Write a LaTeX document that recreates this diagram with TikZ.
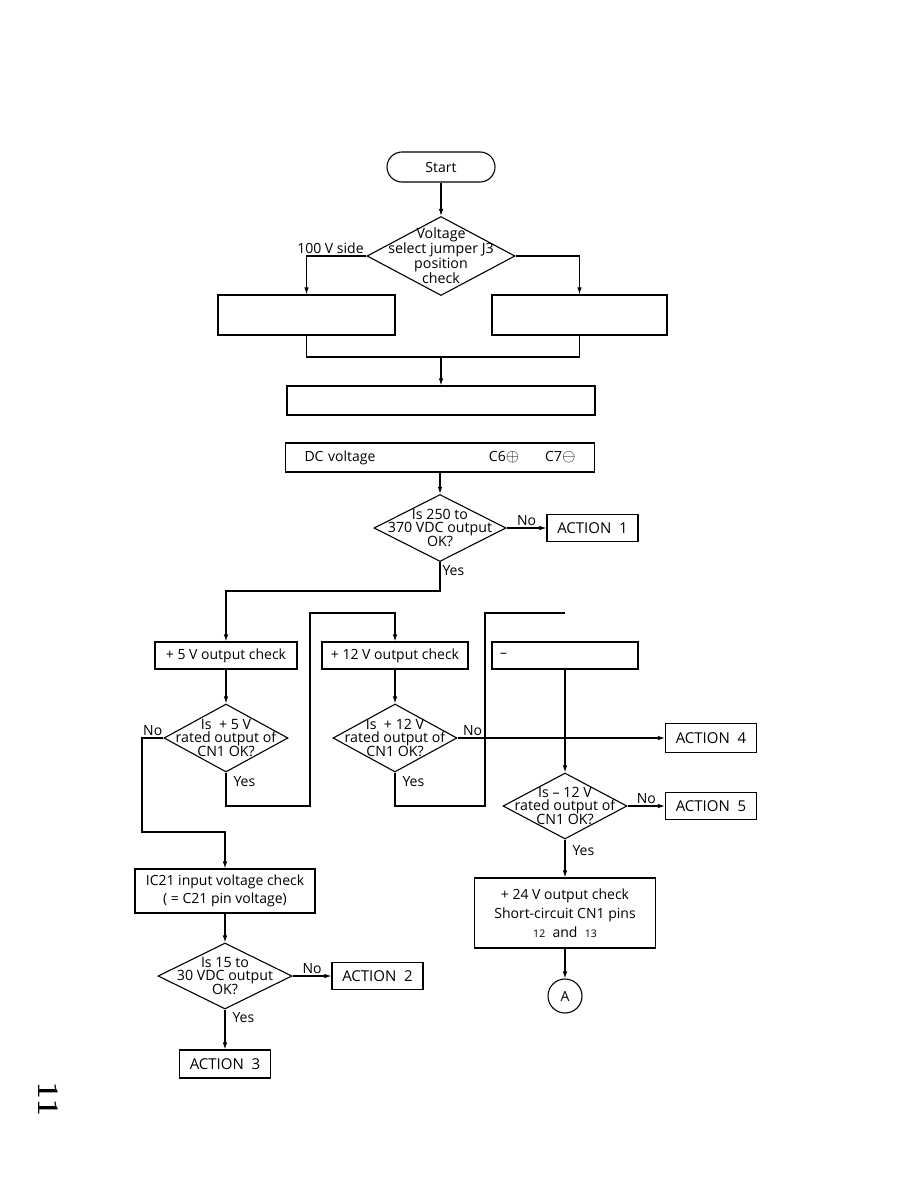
\documentclass[tikz,border=0pt]{standalone}
\usepackage{fontspec}
\setsansfont{Open Sans}
\usepackage{tikz}
\usetikzlibrary{shapes.geometric, arrows.meta}

\begin{document}
\begin{tikzpicture}[x=1pt, y=-1pt, line width=1.1pt, >={Latex[length=7pt,width=4.5pt]},
  box/.style={draw, font=\sffamily\fontsize{14}{18}\selectfont, align=center, inner sep=0pt},
  act/.style={draw, font=\sffamily\fontsize{15}{16}\selectfont, minimum width=91pt, minimum height=27pt, inner sep=0pt},
  dia/.style={draw, diamond, inner sep=0pt},
  dtext/.style={font=\sffamily\fontsize{14.2}{12.8}\selectfont, align=center, inner sep=0pt},
  lbl/.style={font=\sffamily\fontsize{14}{15}\selectfont, inner sep=2pt}]
  \useasboundingbox (0,0) rectangle (918,1188);
  \node[box, rounded corners=15pt, minimum width=108pt, minimum height=30pt] (s) at (441,167) {Start};
  \node[dia, minimum width=148pt, minimum height=79pt, label={[dtext]center:{Voltage\\select jumper J3\\position\\check}}] (d1) at (441,256) {};
  \node[box, minimum width=177pt, minimum height=40pt] (b1) at (306.5,315) {};
  \node[box, minimum width=175pt, minimum height=40pt] (b2) at (579.5,315) {};
  \node[box, minimum width=308pt, minimum height=29pt] (b3) at (441,400.5) {};
  \node[box, minimum width=309pt, minimum height=29pt, text width=271pt, align=left] (dc) at (440,457.5) {DC voltage\hfill C6{\fontsize{18}{18}\selectfont$\oplus$}\hspace{26pt}C7{\fontsize{18}{18}\selectfont$\ominus$}};
  \coordinate (j) at (441,357);
  \node[dia, minimum width=132pt, minimum height=67pt, label={[dtext]center:{Is 250 to\\370 VDC output\\OK?}}] (d2) at (440,528) {};
  \node[act] (a1) at (592.5,528) {ACTION~~1};
  \coordinate (c1) at (440,591);
  \node[box, minimum width=142pt, minimum height=27pt] (p5) at (226,655.5) {+ 5 V output check};
  \node[box, minimum width=146pt, minimum height=27pt] (p12) at (395,655.5) {+ 12 V output check};
  \node[box, minimum width=146pt, minimum height=27pt, text width=130pt, align=left] (m12) at (565,655.5) {--};
  \node[dia, minimum width=124pt, minimum height=68pt, label={[dtext]center:{Is~~+ 5 V\\rated output of\\CN1 OK?}}] (d3) at (226,738) {};
  \node[dia, minimum width=124pt, minimum height=68pt, label={[dtext]center:{Is~~+ 12 V\\rated output of\\CN1 OK?}}] (d4) at (395,738) {};
  \node[act, minimum height=29pt] (a4) at (711,738) {ACTION~~4};
  \node[dia, minimum width=124pt, minimum height=66pt, label={[dtext]center:{Is -- 12 V\\rated output of\\CN1 OK?}}] (d5) at (565,806) {};
  \node[act] (a5) at (711,806) {ACTION~~5};
  \node[box, font=\sffamily\fontsize{14}{19}\selectfont, minimum width=181pt, minimum height=70pt] (p24) at (565,913) {+ 24 V output check\\Short-circuit CN1 pins\\{\fontsize{10.5}{12}\selectfont 12}~~and~~{\fontsize{10.5}{12}\selectfont 13}};
  \node[draw, circle, minimum size=34pt, inner sep=0pt, font=\sffamily\fontsize{14}{15}\selectfont] (A) at (565,996) {A};
  \node[box, minimum width=180pt, minimum height=44pt] (ic) at (225,891) {IC21 input voltage check\\( = C21 pin voltage)};
  \node[dia, minimum width=134pt, minimum height=66pt, label={[dtext]center:{Is 15 to\\30 VDC output\\OK?}}] (d6) at (225,976) {};
  \node[act] (a2) at (377.5,976) {ACTION~~2};
  \node[act, minimum height=28pt] (a3) at (225,1064) {ACTION~~3};
  \node[rotate=-90, font=\rmfamily\bfseries\fontsize{30}{30}\selectfont] (pg) at (48,1099) {11};
  \coordinate (c2) at (142,832);
  \coordinate (c3) at (310,806);
  \coordinate (c4) at (310,613);
  \coordinate (c5) at (485,806);
  \coordinate (c6) at (485,613);
  \coordinate (c7) at (565,613);
  \draw[->] (s) -- (d1);
  \draw[->] (d1.west) -| node[lbl, above, pos=0.3]{100 V side} (b1.north);
  \draw[->] (d1.east) -| (b2.north);
  \draw (b1.south) |- (j) -| (b2.south);
  \draw[->] (j) -- (b3);
  \draw[->] (dc) -- (d2);
  \draw[->] (d2) -- node[lbl, above]{No} (a1);
  \draw[->] (d2.south) -- node[lbl, right, pos=0.3]{Yes} (c1) -| (p5.north);
  \draw[->] (p5) -- (d3);
  \draw[->] (p12) -- (d4);
  \draw[->] (m12) -- (d5);
  \draw[->] (d3.west) -| node[lbl, above, pos=0.25]{No} (c2) -| (ic.north);
  \draw[->] (d3.south) |- node[lbl, right=5pt, pos=0.14]{Yes} (c3) -- (c4) -| (p12.north);
  \draw (d4.south) |- node[lbl, right=5pt, pos=0.14]{Yes} (c5) -- (c6) -- (c7);
  \draw[->] (d4) -- node[lbl, above right, pos=0, xshift=3pt]{No} (a4);
  \draw[->] (d5) -- node[lbl, above]{No} (a5);
  \draw[->] (d5) -- node[lbl, right=5pt, pos=0.3]{Yes} (p24);
  \draw[->] (p24) -- (A);
  \draw[->] (ic) -- (d6);
  \draw[->] (d6) -- node[lbl, above]{No} (a2);
  \draw[->] (d6) -- node[lbl, right=5pt, pos=0.2]{Yes} (a3);
\end{tikzpicture}
\end{document}
